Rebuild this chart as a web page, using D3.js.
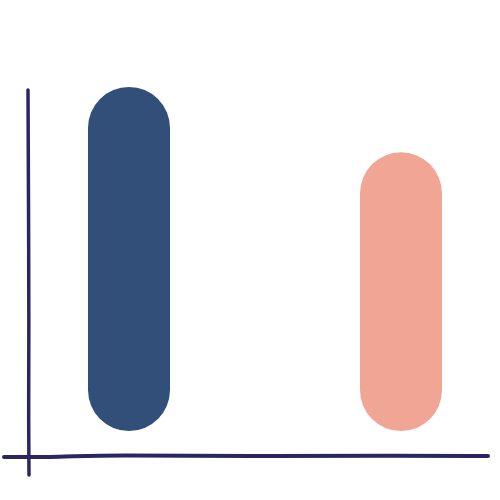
<!DOCTYPE html>
<html>
<head>
<meta charset="utf-8">
<script src="https://cdn.jsdelivr.net/npm/d3@7"></script>
<style>
  html, body { margin: 0; padding: 0; background: #fff; }
  svg { display: block; }
</style>
</head>
<body>
<div id="chart"></div>
<script>
// chart data
const categories = ["A", "B"];
const values = [100, 81];
const colors = ["#314f78", "#f1a594"];

const widthValue = 500;
const heightValue = 500;
const barWidth = 82;

const svg = d3.select("#chart")
              .append("svg")
              .attr("width", widthValue)
              .attr("height", heightValue);

// scales
const xScale = d3.scalePoint()
                 .domain(categories)
                 .range([129, 401]);

const yScale = d3.scaleLinear()
                 .domain([0, 100])
                 .range([431, 87]);

// pill shaped bars
svg.append("g")
   .selectAll("rect")
   .data(values)
   .enter()
   .append("rect")
     .attr("x", (d, i) => xScale(categories[i]) - barWidth / 2)
     .attr("y", d => yScale(d))
     .attr("width", barWidth)
     .attr("height", d => yScale(0) - yScale(d))
     .attr("rx", barWidth / 2)
     .attr("ry", barWidth / 2)
     .style("fill", (d, i) => colors[i]);

// hand drawn axes
const line = d3.line().curve(d3.curveBasis);
const axisColor = "#2b2663";

svg.append("path")
   .attr("d", line([[28, 90], [28.5, 200], [29, 330], [28.5, 420], [29, 475]]))
   .attr("fill", "none")
   .attr("stroke", axisColor)
   .attr("stroke-width", 3.5)
   .attr("stroke-linecap", "round");

svg.append("path")
   .attr("d", line([[4, 457], [60, 457], [110, 455], [250, 456.5], [400, 455.5], [488, 456]]))
   .attr("fill", "none")
   .attr("stroke", axisColor)
   .attr("stroke-width", 4)
   .attr("stroke-linecap", "round");
</script>
</body>
</html>
